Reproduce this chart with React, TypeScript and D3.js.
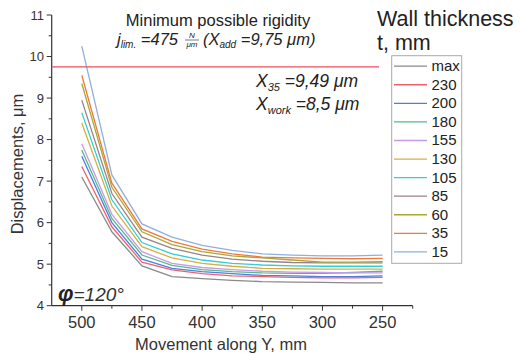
import React from 'react';
import * as d3 from 'd3';

// Movement along Y (mm)
const positions = [500, 475, 450, 425, 400, 375, 350, 325, 300, 275, 250];

const seriesNames = ['max', '230', '200', '180', '155', '130', '105', '85', '60', '35', '15'];
const seriesColors = ['#8a8a8a', '#f0606c', '#4b7fe0', '#55b98a', '#c79be8', '#d4b040', '#2ecfd6', '#9c8286', '#a8a83a', '#f07a34', '#8eb0e0'];

const sMax = [7.1, 5.78, 4.96, 4.7, 4.65, 4.61, 4.58, 4.57, 4.56, 4.55, 4.55];
const s230 = [7.35, 5.9, 5.05, 4.86, 4.77, 4.72, 4.7, 4.68, 4.67, 4.67, 4.68];
const s200 = [7.6, 6.0, 5.12, 4.9, 4.82, 4.77, 4.73, 4.72, 4.7, 4.7, 4.72];
const s180 = [7.75, 6.1, 5.22, 4.97, 4.87, 4.82, 4.79, 4.78, 4.78, 4.8, 4.83];
const s155 = [7.9, 6.2, 5.3, 5.02, 4.92, 4.87, 4.83, 4.81, 4.8, 4.79, 4.79];
const s130 = [8.4, 6.4, 5.42, 5.15, 5.02, 4.95, 4.9, 4.89, 4.88, 4.88, 4.88];
const s105 = [8.65, 6.55, 5.52, 5.25, 5.1, 5.02, 4.98, 4.96, 4.95, 4.95, 4.95];
const s85 = [8.95, 6.7, 5.65, 5.38, 5.22, 5.12, 5.07, 5.04, 5.03, 5.03, 5.03];
const s60 = [9.35, 6.85, 5.78, 5.47, 5.3, 5.2, 5.15, 5.1, 5.05, 5.05, 5.06];
const s35 = [9.55, 6.95, 5.85, 5.55, 5.36, 5.25, 5.17, 5.15, 5.14, 5.13, 5.14];
const s15 = [10.25, 7.15, 5.97, 5.65, 5.45, 5.33, 5.25, 5.22, 5.2, 5.2, 5.22];

const seriesValues = [sMax, s230, s200, s180, s155, s130, s105, s85, s60, s35, s15];

const xTicks = [500, 450, 400, 350, 300, 250];
const xMinor = [475, 425, 375, 325, 275, 225];
const yTicks = [4, 5, 6, 7, 8, 9, 10, 11];
const yMinor = [4.5, 5.5, 6.5, 7.5, 8.5, 9.5, 10.5];

const limitValue = 9.75;
const limitRange = [525, 253];

const FONT = 'Liberation Sans, Arial, sans-serif';

export default function App() {
  const x = d3.scaleLinear().domain([525, 225]).range([51.7, 412.7]);
  const y = d3.scaleLinear().domain([4, 11]).range([305.7, 15]);

  const line = d3.line<number>()
    .x((_, i) => x(positions[i]))
    .y(d => y(d));

  const legendX = 391.7;
  const legendY = 55.7;
  const rowH = 18.57;

  return (
    <svg width={521} height={354} style={{ position: 'absolute', left: 0, top: 0, background: '#fff' }} fontFamily={FONT}>
      {/* axes */}
      <line x1={x(525)} x2={x(225)} y1={y(4)} y2={y(4)} stroke="#333" strokeWidth={1.2} />
      <line x1={x(525)} x2={x(525)} y1={y(4)} y2={y(11)} stroke="#333" strokeWidth={1.2} />
      {xTicks.map(t => (
        <g key={'xt' + t}>
          <line x1={x(t)} x2={x(t)} y1={y(4)} y2={y(4) + 5} stroke="#333" />
          <text x={x(t)} y={328} textAnchor="middle" fontSize={16.5} fill="#333">{t}</text>
        </g>
      ))}
      {xMinor.map(t => (
        <line key={'xm' + t} x1={x(t)} x2={x(t)} y1={y(4)} y2={y(4) + 3} stroke="#333" />
      ))}
      {yTicks.map(t => (
        <g key={'yt' + t}>
          <line x1={x(525) - 5} x2={x(525)} y1={y(t)} y2={y(t)} stroke="#333" />
          <text x={44} y={y(t) + 4.5} textAnchor="end" fontSize={13} fill="#333">{t}</text>
        </g>
      ))}
      {yMinor.map(t => (
        <line key={'ym' + t} x1={x(525) - 3} x2={x(525)} y1={y(t)} y2={y(t)} stroke="#333" />
      ))}
      <text x={221} y={350} textAnchor="middle" fontSize={16.5} fill="#333">Movement along Y, mm</text>
      <text transform={`translate(23,164) rotate(-90)`} textAnchor="middle" fontSize={16.5} fill="#333">Displacements, μm</text>

      {/* series */}
      {seriesValues.map((vals, i) => (
        <path key={seriesNames[i]} d={line(vals) || ''} fill="none" stroke={seriesColors[i]} strokeWidth={1.3} />
      ))}

      {/* limit line */}
      <line x1={x(limitRange[0])} x2={x(limitRange[1])} y1={y(limitValue)} y2={y(limitValue)} stroke="#ee4d5a" strokeWidth={1.3} />

      {/* annotations */}
      <text x={218} y={26} textAnchor="middle" fontSize={16.5} fill="#222">Minimum possible rigidity</text>
      <text x={117} y={45} fontSize={16.5} fontStyle="italic" fill="#222">
        <tspan>j</tspan><tspan fontSize={10} dy={3}>lim.</tspan>
        <tspan dy={-3}> =475 </tspan>
      </text>
      <text x={192} y={38} textAnchor="middle" fontSize={8} fontStyle="italic" fill="#222">N</text>
      <line x1={185} x2={199} y1={40} y2={40} stroke="#222" strokeWidth={0.6} />
      <text x={192} y={47} textAnchor="middle" fontSize={8} fontStyle="italic" fill="#222">μm</text>
      <text x={203} y={45} fontSize={16.5} fontStyle="italic" fill="#222">
        <tspan>(X</tspan><tspan fontSize={10} dy={3}>add</tspan>
        <tspan dy={-3}> =9,75 μm)</tspan>
      </text>
      <text x={256} y={87} fontSize={17.5} fontStyle="italic" fill="#222">
        <tspan>X</tspan><tspan fontSize={11} dy={4}>35</tspan>
        <tspan dy={-4}> =9,49 μm</tspan>
      </text>
      <text x={256} y={110} fontSize={17.5} fontStyle="italic" fill="#222">
        <tspan>X</tspan><tspan fontSize={11} dy={4}>work</tspan>
        <tspan dy={-4}> =8,5 μm</tspan>
      </text>
      <text x={58} y={301} fontSize={22} fill="#222">
        <tspan fontStyle="italic" fontWeight="bold">φ</tspan>
        <tspan fontStyle="italic" fontSize={19} fontWeight={300} fill="#333">=120°</tspan>
      </text>

      {/* legend */}
      <text x={377} y={26} fontSize={21.5} fill="#222">Wall thickness</text>
      <text x={377} y={50} fontSize={21.5} fill="#222">t, mm</text>
      <rect x={legendX} y={legendY} width={70} height={207.6} fill="#fff" stroke="#aaa" strokeWidth={1} />
      {seriesNames.map((n, i) => (
        <g key={'lg' + n}>
          <line x1={394} x2={427} y1={legendY + 10.5 + i * rowH} y2={legendY + 10.5 + i * rowH} stroke={seriesColors[i]} strokeWidth={1.3} />
          <text x={431.5} y={legendY + 15.5 + i * rowH} fontSize={15} fill="#222">{n}</text>
        </g>
      ))}
    </svg>
  );
}
